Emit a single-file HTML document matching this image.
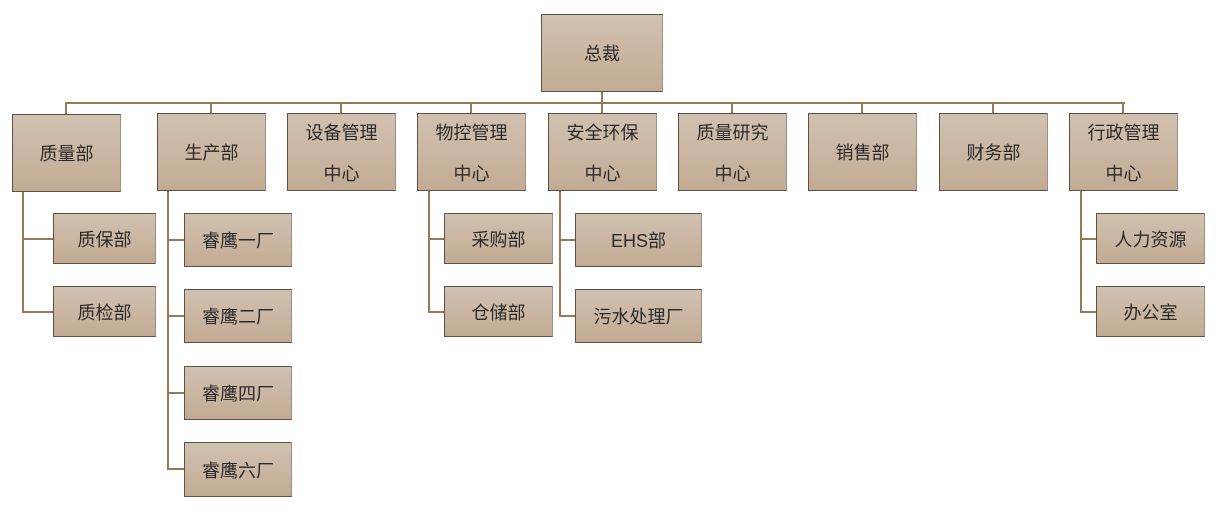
<!DOCTYPE html>
<html><head><meta charset="utf-8"><style>
body{margin:0;width:1218px;height:512px;background:#fff;position:relative;overflow:hidden;font-family:"Liberation Sans","Noto Sans CJK SC",sans-serif;}
.b{position:absolute;box-sizing:border-box;border:1px solid #5e5146;border-right-color:#9a8f85;background:linear-gradient(#d1c1b1,#c3ab93);color:#2a2a2a;font-size:18px;display:flex;align-items:center;justify-content:center;text-align:center;line-height:41px;padding-top:3px;}
.l{position:absolute;background:#957a55;}
</style></head><body>
<div class="l" style="left:601px;top:91px;width:2px;height:13px"></div>
<div class="l" style="left:65px;top:102px;width:1060px;height:2px"></div>
<div class="l" style="left:65px;top:102px;width:2px;height:12px"></div>
<div class="l" style="left:210px;top:102px;width:2px;height:12px"></div>
<div class="l" style="left:340px;top:102px;width:2px;height:12px"></div>
<div class="l" style="left:470px;top:102px;width:2px;height:12px"></div>
<div class="l" style="left:601px;top:102px;width:2px;height:12px"></div>
<div class="l" style="left:731px;top:102px;width:2px;height:12px"></div>
<div class="l" style="left:861px;top:102px;width:2px;height:12px"></div>
<div class="l" style="left:992px;top:102px;width:2px;height:12px"></div>
<div class="l" style="left:1122px;top:102px;width:2px;height:12px"></div>

<div class="l" style="left:22px;top:191px;width:2px;height:122px"></div>
<div class="l" style="left:22px;top:238px;width:31px;height:2px"></div>
<div class="l" style="left:22px;top:311px;width:31px;height:2px"></div>

<div class="l" style="left:167px;top:190px;width:2px;height:280px"></div>
<div class="l" style="left:167px;top:239px;width:17px;height:2px"></div>
<div class="l" style="left:167px;top:315px;width:17px;height:2px"></div>
<div class="l" style="left:167px;top:392px;width:17px;height:2px"></div>
<div class="l" style="left:167px;top:468px;width:17px;height:2px"></div>

<div class="l" style="left:428px;top:190px;width:2px;height:123px"></div>
<div class="l" style="left:428px;top:238px;width:16px;height:2px"></div>
<div class="l" style="left:428px;top:311px;width:16px;height:2px"></div>

<div class="l" style="left:559px;top:190px;width:2px;height:126px"></div>
<div class="l" style="left:559px;top:239px;width:16px;height:2px"></div>
<div class="l" style="left:559px;top:315px;width:16px;height:2px"></div>

<div class="l" style="left:1080px;top:190px;width:2px;height:123px"></div>
<div class="l" style="left:1080px;top:238px;width:16px;height:2px"></div>
<div class="l" style="left:1080px;top:311px;width:16px;height:2px"></div>

<div class="b" style="left:541px;top:14px;width:122px;height:78px">总裁</div>
<div class="b" style="left:12px;top:114px;width:109px;height:78px">质量部</div>
<div class="b" style="left:157px;top:113px;width:109px;height:78px">生产部</div>
<div class="b" style="left:287px;top:113px;width:109px;height:78px">设备管理<br>中心</div>
<div class="b" style="left:417px;top:113px;width:109px;height:78px">物控管理<br>中心</div>
<div class="b" style="left:548px;top:113px;width:109px;height:78px">安全环保<br>中心</div>
<div class="b" style="left:678px;top:113px;width:109px;height:78px">质量研究<br>中心</div>
<div class="b" style="left:808px;top:113px;width:109px;height:78px">销售部</div>
<div class="b" style="left:939px;top:113px;width:109px;height:78px">财务部</div>
<div class="b" style="left:1069px;top:113px;width:109px;height:78px">行政管理<br>中心</div>

<div class="b" style="left:53px;top:213px;width:103px;height:51px">质保部</div>
<div class="b" style="left:53px;top:286px;width:103px;height:51px">质检部</div>
<div class="b" style="left:184px;top:213px;width:108px;height:54px">睿鹰一厂</div>
<div class="b" style="left:184px;top:289px;width:108px;height:54px">睿鹰二厂</div>
<div class="b" style="left:184px;top:366px;width:108px;height:54px">睿鹰四厂</div>
<div class="b" style="left:184px;top:442px;width:108px;height:55px">睿鹰六厂</div>
<div class="b" style="left:444px;top:213px;width:109px;height:51px">采购部</div>
<div class="b" style="left:444px;top:286px;width:109px;height:51px">仓储部</div>
<div class="b" style="left:575px;top:213px;width:127px;height:54px">EHS部</div>
<div class="b" style="left:575px;top:289px;width:127px;height:54px">污水处理厂</div>
<div class="b" style="left:1096px;top:213px;width:109px;height:51px">人力资源</div>
<div class="b" style="left:1096px;top:286px;width:109px;height:51px">办公室</div>
</body></html>
